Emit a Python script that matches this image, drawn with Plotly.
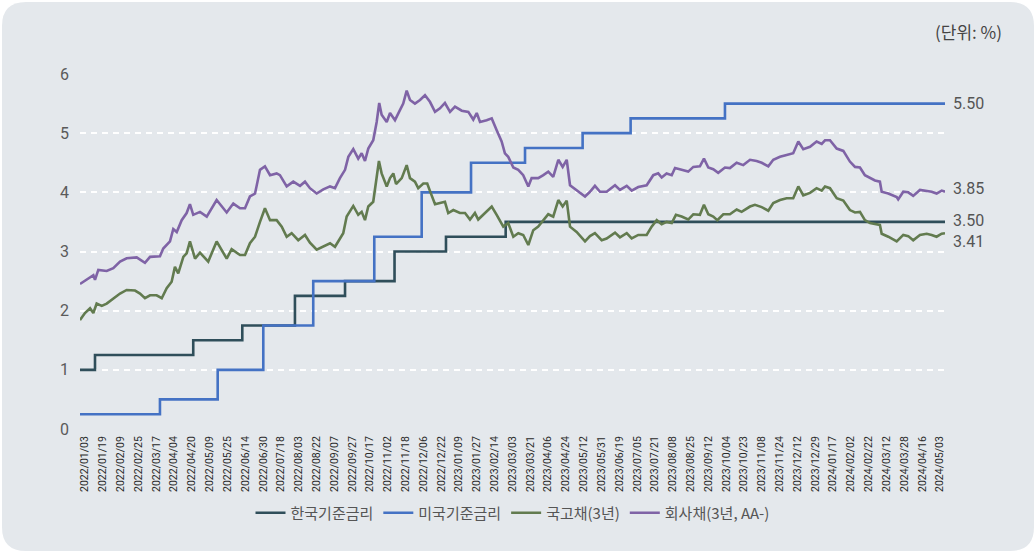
import plotly.graph_objects as go

# ---- data (x = trading-day position along the axis, y = %) ----
tick_labels = [
    "2022/01/03", "2022/01/19", "2022/02/09", "2022/02/25", "2022/03/17", "2022/04/04",
    "2022/04/20", "2022/05/09", "2022/05/25", "2022/06/14", "2022/06/30", "2022/07/18",
    "2022/08/03", "2022/08/22", "2022/09/07", "2022/09/27", "2022/10/17", "2022/11/02",
    "2022/11/18", "2022/12/06", "2022/12/22", "2023/01/09", "2023/01/27", "2023/02/14",
    "2023/03/03", "2023/03/21", "2023/04/06", "2023/04/24", "2023/05/12", "2023/05/31",
    "2023/06/19", "2023/07/05", "2023/07/21", "2023/08/08", "2023/08/25", "2023/09/12",
    "2023/10/04", "2023/10/23", "2023/11/08", "2023/11/24", "2023/12/12", "2023/12/29",
    "2024/01/17", "2024/02/02", "2024/02/22", "2024/03/12", "2024/03/28", "2024/04/16",
    "2024/05/03",
]

kr_x = [0, 10, 75.5, 108.2, 143.3, 176.7, 209.7, 244, 283.8, 576.7]
kr_y = [1.00, 1.25, 1.50, 1.75, 2.25, 2.50, 3.00, 3.25, 3.50, 3.50]

us_x = [0, 53.3, 91.8, 122.2, 155.5, 196.2, 227.8, 260.7, 296.7, 335.1, 367.1, 430, 576.7]
us_y = [0.25, 0.50, 1.00, 1.75, 2.50, 3.25, 4.00, 4.50, 4.75, 5.00, 5.25, 5.50, 5.50]

gov_x = [0, 3.3, 6.7, 8.9, 11.1, 14.5, 17.8, 22.2, 26.7, 31.1, 36.7, 40, 43.3, 46.7, 51.1,
         54.5, 57.8, 61.1, 63.3, 65.5, 68.9, 71.1, 73.3, 76.7, 80, 85.5, 91.1, 97.8, 101.1,
         106.7, 110, 113.3, 116.7, 120, 123.3, 126.7, 131.1, 134.5, 137.8, 141.1, 145.5,
         150, 153.3, 157.8, 162.2, 166.7, 170, 173.3, 175.5, 177.8, 182.2, 185.5, 187.8,
         190, 192.2, 195.5, 197.3, 199.3, 201.1, 204.5, 206.7, 208.9, 210.7, 214.5, 217.8,
         220, 223.3, 225.5, 228.9, 231.5, 233.8, 236.7, 240, 243.3, 245.5, 248.9, 253.3,
         256.7, 260, 263.3, 265.5, 268.9, 274.5, 277.8, 282.2, 285.5, 288.9, 292.2, 295.5,
         298.9, 302.2, 305.5, 308.9, 312.2, 315.5, 318.9, 321.8, 324.5, 326.7, 331.1, 336.7,
         340, 343.3, 347.8, 351.1, 356.7, 360, 364.5, 367.8, 372.2, 377.8, 381.1, 384.5,
         387.8, 391.1, 394.5, 397.3, 401.1, 405.5, 408.9, 413.3, 416, 418.9, 422.2, 424.9,
         428.9, 433.3, 437.8, 441.1, 446.7, 450, 454.5, 458.9, 462.2, 466.7, 471.1, 475.5,
         478.9, 482.2, 486.7, 491.1, 494.5, 496.7, 500, 504.5, 508.9, 513.3, 516.7, 520,
         523.3, 526.7, 530, 533.3, 534.5, 538.9, 544.5, 548.9, 552.2, 555.5, 560, 564.5,
         567.8, 571.1, 574.5, 576.7]
gov_y = [1.84, 1.96, 2.04, 1.96, 2.12, 2.08, 2.12, 2.21, 2.29, 2.35, 2.34, 2.29, 2.21, 2.26, 2.26,
         2.21, 2.38, 2.49, 2.74, 2.63, 2.91, 2.97, 3.17, 2.88, 2.98, 2.83, 3.17, 2.88, 3.04,
         2.94, 2.94, 3.14, 3.25, 3.50, 3.73, 3.53, 3.53, 3.42, 3.25, 3.31, 3.19,
         3.28, 3.15, 3.03, 3.08, 3.14, 3.08, 3.22, 3.31, 3.59, 3.77, 3.62, 3.67,
         3.53, 3.76, 3.84, 4.15, 4.53, 4.32, 4.10, 4.24, 4.32, 4.14, 4.24, 4.46,
         4.24, 4.18, 4.07, 4.15, 4.15, 3.99, 3.80, 3.82, 3.84, 3.65, 3.70, 3.65,
         3.65, 3.54, 3.65, 3.54, 3.63, 3.76, 3.62, 3.42, 3.48, 3.25, 3.31, 3.28,
         3.11, 3.36, 3.42, 3.53, 3.63, 3.59, 3.87, 3.76, 3.86, 3.42, 3.33, 3.17,
         3.26, 3.31, 3.19, 3.22, 3.32, 3.24, 3.31, 3.22, 3.28, 3.28, 3.42, 3.53,
         3.46, 3.50, 3.48, 3.62, 3.59, 3.54, 3.63, 3.62, 3.79, 3.63, 3.59, 3.53,
         3.63, 3.63, 3.71, 3.67, 3.76, 3.79, 3.75, 3.69, 3.82, 3.87, 3.90, 3.90,
         4.10, 3.95, 3.99, 4.07, 4.03, 4.10, 4.07, 3.90, 3.86, 3.70, 3.66, 3.67,
         3.53, 3.48, 3.46, 3.45, 3.30, 3.25, 3.17, 3.28, 3.26, 3.19, 3.28, 3.30,
         3.28, 3.25, 3.30, 3.31]

corp_x = [0, 6.7, 8.9, 10, 12.2, 17.8, 22.2, 26.7, 31.1, 37.8, 41.1, 43.3, 46.7, 53.3, 55.5,
          60, 62.2, 64.5, 67.8, 71.1, 73.3, 75.5, 80, 84.5, 91.1, 97.8, 102.2, 106.7, 110,
          113.3, 116.7, 120, 123.3, 126.7, 131.1, 133.3, 137.8, 142.2, 146.7, 150, 153.3,
          157.8, 162.2, 166.7, 170, 173.3, 176.7, 178.9, 182.2, 185.5, 187.8, 190, 192.2,
          195.5, 197.8, 199.5, 201.1, 204.5, 206.7, 210, 213.3, 215.5, 217.8, 220, 223.3,
          226.7, 230, 233.3, 236.7, 240, 243.3, 246.7, 250, 254.5, 258.9, 262.2, 264.5,
          266.7, 271.1, 274.5, 277.8, 281.1, 283.3, 285.5, 288.9, 292.2, 295.5, 298.9,
          301.1, 305.5, 308.9, 312.2, 315.5, 318.9, 321.8, 324.5, 326.7, 331.1, 336.7, 340,
          343.3, 346.7, 351.1, 356.7, 360, 364.5, 367.8, 372.2, 377.8, 382.2, 385.5, 387.8,
          391.1, 394.5, 396.7, 401.1, 405.5, 408.9, 413.3, 416, 418.9, 422.2, 425.5, 430,
          433.3, 437.8, 442.2, 446.7, 451.1, 454.5, 458.9, 462.2, 466.7, 471.1, 475.5,
          478.9, 482.2, 486.7, 491.1, 494.5, 496.7, 500, 504.5, 508.9, 513.3, 516.7, 520,
          523.3, 526.7, 530, 533.3, 534.5, 538.9, 544.5, 545.5, 548.9, 552.2, 555.5, 560,
          564.5, 567.8, 571.1, 574.5, 576.7]
corp_y = [2.45, 2.57, 2.60, 2.52, 2.69, 2.67, 2.72, 2.83, 2.885, 2.90, 2.84, 2.81, 2.91, 2.92, 3.05,
          3.17, 3.38, 3.33, 3.53, 3.65, 3.80, 3.62, 3.67, 3.59, 3.87, 3.66, 3.81, 3.73, 3.73,
          3.93, 3.98, 4.38, 4.44, 4.29, 4.32, 4.29, 4.10, 4.18, 4.11, 4.18, 4.07,
          3.98, 4.05, 4.10, 4.07, 4.24, 4.38, 4.60, 4.73, 4.57, 4.66, 4.53, 4.74,
          4.88, 5.19, 5.51, 5.31, 5.19, 5.34, 5.22, 5.39, 5.50, 5.72, 5.56, 5.50,
          5.56, 5.64, 5.53, 5.36, 5.42, 5.51, 5.36, 5.45, 5.38, 5.36, 5.23, 5.34,
          5.19, 5.22, 5.25, 5.05, 4.86, 4.66, 4.60, 4.42, 4.38, 4.29, 4.10,
          4.24, 4.24, 4.29, 4.35, 4.26, 4.55, 4.43, 4.55, 4.12, 4.04, 3.93, 4.01,
          4.11, 4.01, 4.01, 4.12, 4.04, 4.11, 4.03, 4.09, 4.12, 4.29, 4.32, 4.25,
          4.32, 4.29, 4.41, 4.38, 4.35, 4.43, 4.44, 4.57, 4.42, 4.39, 4.33, 4.42,
          4.41, 4.50, 4.46, 4.55, 4.53, 4.50, 4.44, 4.55, 4.60, 4.63, 4.66,
          4.86, 4.73, 4.77, 4.86, 4.82, 4.88, 4.88, 4.74, 4.70, 4.52, 4.43, 4.42,
          4.29, 4.24, 4.20, 4.18, 4.01, 3.98, 3.92, 3.88, 4.01, 4.00, 3.94, 4.04,
          4.03, 4.01, 3.98, 4.03, 4.01]

series_names = ["한국기준금리", "미국기준금리", "국고채(3년)", "회사채(3년, AA-)"]
end_labels = ["3.50", "5.50", "3.41", "3.85"]
end_label_y = [3.52, 5.50, 3.17, 4.07]  # label placement (avoids overlap)
unit_text = "(단위: %)"

# ---- styling ----
W, H = 1036, 553
L, R, T, B = 80, 91, 74, 124
PW, PH = W - L - R, H - T - B
X_MAX = 576.7
BG = "#e4e8ec"
colors = ["#2f4e5a", "#4472c4", "#627b4f", "#7f63a6"]
FONT = "Roboto, 'Noto Sans CJK KR', sans-serif"
KFONT = "'Noto Sans CJK KR', Roboto, sans-serif"

tick_vals = [3.33 + 11.875 * k for k in range(len(tick_labels))]

fig = go.Figure()
data = [(kr_x, kr_y, "hv"), (us_x, us_y, "hv"), (gov_x, gov_y, "linear"), (corp_x, corp_y, "linear")]
for (xs, ys, shape), name, col in zip(data, series_names, colors):
    fig.add_trace(go.Scatter(x=xs, y=ys, mode="lines", name=name,
                             line=dict(color=col, width=2.6, shape=shape),
                             hoverinfo="skip"))

annotations = []
for txt, yv in zip(end_labels, end_label_y):
    annotations.append(dict(x=X_MAX, y=yv, xref="x", yref="y", text=txt, showarrow=False,
                            xanchor="left", yanchor="middle", xshift=6,
                            font=dict(family=FONT, size=16, color="#555555")))
annotations.append(dict(x=(1004 - L) / PW, y=(H - B - 32) / PH, xref="paper", yref="paper",
                        text=unit_text, showarrow=False, xanchor="right", yanchor="middle",
                        font=dict(family=KFONT, size=17, color="#444444")))

# rounded background panel
def px(xp):
    return (xp - L) / PW
def py(yp):
    return (H - B - yp) / PH
x0, x1, y0, y1, rr = 2, 1034, 2, 551, 24
path = (f"M{px(x0+rr)},{py(y0)} L{px(x1-rr)},{py(y0)} Q{px(x1)},{py(y0)} {px(x1)},{py(y0+rr)} "
        f"L{px(x1)},{py(y1-rr)} Q{px(x1)},{py(y1)} {px(x1-rr)},{py(y1)} "
        f"L{px(x0+rr)},{py(y1)} Q{px(x0)},{py(y1)} {px(x0)},{py(y1-rr)} "
        f"L{px(x0)},{py(y0+rr)} Q{px(x0)},{py(y0)} {px(x0+rr)},{py(y0)} Z")

fig.update_layout(
    width=W, height=H,
    margin=dict(l=L, r=R, t=T, b=B, autoexpand=False),
    paper_bgcolor="white", plot_bgcolor="rgba(0,0,0,0)",
    shapes=[dict(type="path", path=path, xref="paper", yref="paper",
                 fillcolor=BG, line=dict(width=0), layer="below")],
    annotations=annotations,
    showlegend=True,
    legend=dict(orientation="h", x=0.5, xanchor="center", y=(H - B - 513) / PH, yanchor="middle",
                font=dict(family=KFONT, size=15, color="#555555"), bgcolor="rgba(0,0,0,0)",
                itemwidth=30),
    xaxis=dict(range=[0, X_MAX], tickmode="array", tickvals=tick_vals, ticktext=tick_labels,
               tickangle=-90, tickfont=dict(family=FONT, size=10.5, color="#2a2a2a"),
               showgrid=False, zeroline=False, showline=False, ticks="", ticklabelstandoff=4),
    yaxis=dict(range=[0, 6], tickvals=[0, 1, 2, 3, 4, 5, 6], showgrid=True, gridcolor="white",
               gridwidth=2, griddash="6px,5px", zeroline=False, showline=False, ticks="",
               tickfont=dict(family=FONT, size=16, color="#5a5a5a"), ticklabelstandoff=10),
)

fig.write_html("out.html", config={"displayModeBar": False},
               post_script="document.body.style.margin='0';document.body.style.overflow='hidden';")
